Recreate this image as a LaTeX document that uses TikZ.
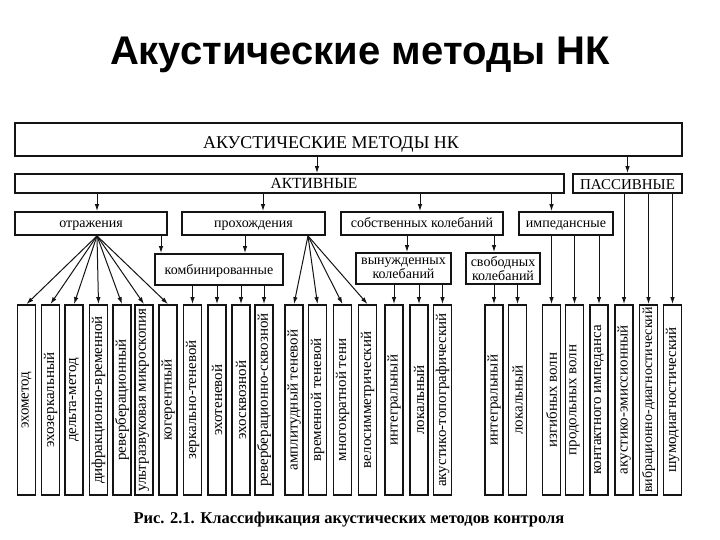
\documentclass[tikz,border=0pt]{standalone}
\usepackage{fontspec}
\setmainfont{Liberation Serif}
\newfontfamily\headfont{Liberation Sans}
\usepackage{graphicx}
\usetikzlibrary{positioning,calc}
\usetikzlibrary{arrows.meta}
\definecolor{InkBlack}{RGB}{20,20,20}
\tikzset{
	frame/.style={draw=InkBlack,line width=1.8pt,inner sep=0pt,
		font=\fontsize{14}{15.5}\selectfont},
	box/.style={frame,text height=10pt,text depth=1pt},
	box2/.style={frame,align=center,font=\fontsize{14}{13.5}\selectfont},
	leaf/.style={frame,minimum width=18pt,minimum height=190pt,
		font=\fontsize{15}{16}\selectfont},
	arr/.style={draw=InkBlack,line width=1pt,-{Latex[length=7pt,width=4.5pt]}},
}

\begin{document}
\begin{tikzpicture}[x=1pt,y=-1pt]
	\useasboundingbox[fill=white] (0,0) rectangle (720,540);
	\node[anchor=base,font=\headfont\bfseries\fontsize{40}{44}\selectfont] (title) at (360,65) {Акустические методы НК};
	% upper levels
	\node[box,minimum width=667pt,minimum height=33pt,text height=18pt,text depth=0pt,font=\fontsize{18}{20}\selectfont] (top) at (348.5,139.5) {\hspace*{-35pt}АКУСТИЧЕСКИЕ МЕТОДЫ НК};
	\node[box,minimum width=549pt,minimum height=19pt,text height=11pt,text depth=0pt,font=\fontsize{15.5}{17}\selectfont] (akt) at (289.5,183.5) {\hspace*{49pt}АКТИВНЫЕ};
	\node[box,minimum width=109pt,minimum height=19pt,text height=13pt,text depth=0pt,font=\fontsize{15}{16}\selectfont] (pas) at (627.5,183.5) {ПАССИВНЫЕ};
	\node[box,minimum width=152pt,minimum height=23pt] (otr) at (91,223.5) {отражения};
	\node[box,minimum width=143pt,minimum height=23pt] (pro) at (253.5,223.5) {прохождения};
	\node[box,minimum width=162pt,minimum height=23pt] (sob) at (422,223.5) {собственных колебаний};
	\node[box,minimum width=94pt,minimum height=23pt] (imp) at (566,223.5) {импедансные};
	\node[box,minimum width=128pt,minimum height=31pt] (komb) at (219,269.5) {комбинированные};
	\node[box2,minimum width=95pt,minimum height=31pt] (vyn) at (403.5,268.5) {вынужденных\\колебаний};
	\node[box2,minimum width=74pt,minimum height=31pt] (svob) at (503,268.5) {свободных\\колебаний};
	% methods
	\node[leaf] (l1) at (26.5,400) {\rotatebox{90}{эхометод}};
	\node[leaf] (l2) at (50.5,400) {\rotatebox{90}{эхозеркальный}};
	\node[leaf] (l3) at (74,400) {\rotatebox{90}{дельта-метод}};
	\node[leaf] (l4) at (98.5,400) {\rotatebox{90}{дифракционно-временной}};
	\node[leaf] (l5) at (122,400) {\rotatebox{90}{реверберационный}};
	\node[leaf] (l6) at (144,400) {\rotatebox{90}{ультразвуковая микроскопия}};
	\node[leaf] (l7) at (168,400) {\rotatebox{90}{когерентный}};
	\node[leaf] (l8) at (192.5,400) {\rotatebox{90}{зеркально-теневой}};
	\node[leaf] (l9) at (217,400) {\rotatebox{90}{эхотеневой}};
	\node[leaf] (l10) at (241,400) {\rotatebox{90}{эхосквозной}};
	\node[leaf] (l11) at (264,400) {\rotatebox{90}{реверберационно-сквозной}};
	\node[leaf] (l12) at (294,400) {\rotatebox{90}{амплитудный теневой}};
	\node[leaf] (l13) at (317.5,400) {\rotatebox{90}{временной теневой}};
	\node[leaf] (l14) at (342.5,400) {\rotatebox{90}{многократной тени}};
	\node[leaf] (l15) at (367.5,400) {\rotatebox{90}{велосимметрический}};
	\node[leaf] (l16) at (394,400) {\rotatebox{90}{интегральный}};
	\node[leaf] (l17) at (419,400) {\rotatebox{90}{локальный}};
	\node[leaf] (l18) at (442.5,400) {\rotatebox{90}{акустико-топографический}};
	\node[leaf] (l19) at (494,400) {\rotatebox{90}{интегральный}};
	\node[leaf] (l20) at (517.5,400) {\rotatebox{90}{локальный}};
	\node[leaf] (l21) at (551.5,400) {\rotatebox{90}{изгибных волн}};
	\node[leaf] (l22) at (574.5,400) {\rotatebox{90}{продольных волн}};
	\node[leaf] (l23) at (599,400) {\rotatebox{90}{контактного импеданса}};
	\node[leaf] (l24) at (624,400) {\rotatebox{90}{акустико-эмиссионный}};
	\node[leaf,font=\fontsize{14}{15}\selectfont] (l25) at (648.5,400) {\rotatebox{90}{вибрационно-диагностический}};
	\node[leaf] (l26) at (672.5,400) {\rotatebox{90}{шумодиагностический}};
	\node[font=\bfseries\fontsize{16.5}{18}\selectfont] (cap) at (349,520) {Рис. 2.1. Классификация акустических методов контроля};
	% arrows between levels
	\coordinate (t1) at (top.south -| 317,0);
	\coordinate (otrfan) at (otr.south -| 97,0);
	\coordinate (profan) at (pro.south -| 308,0);
	\draw[arr] (t1) -- (t1 |- akt.north);
	\draw[arr] (top.south -| pas.north) -- (pas.north);
	\draw[arr] (akt.south -| 97,0) -- (otr.north -| 97,0);
	\draw[arr] (akt.south -| 263,0) -- (pro.north -| 263,0);
	\draw[arr] (akt.south -| 420,0) -- (sob.north -| 420,0);
	\draw[arr] (akt.south -| l21) -- (imp.north -| l21);
	\draw[arr] (otr.south -| 161,0) -- (komb.north -| 161,0);
	\draw[arr] (pro.south -| 245,0) -- (komb.north -| 245,0);
	\draw[arr] (sob.south -| 407,0) -- (vyn.north -| 407,0);
	\draw[arr] (sob.south -| l19) -- (svob.north -| l19);
	% fans
	\draw[arr] (otrfan) -- (l1.north);
	\draw[arr] (otrfan) -- (l2.north);
	\draw[arr] (otrfan) -- (l3.north);
	\draw[arr] (otrfan) -- (l4.north);
	\draw[arr] (otrfan) -- (l5.north);
	\draw[arr] (otrfan) -- (l6.north);
	\draw[arr] (otrfan) -- (l7.north);
	\draw[arr] (profan) -- (l12.north);
	\draw[arr] (profan) -- (l13.north);
	\draw[arr] (profan) -- (l14.north);
	\draw[arr] (profan) -- (l15.north);
	% straight drops
	\draw[arr] (komb.south -| l8) -- (l8.north);
	\draw[arr] (komb.south -| l9) -- (l9.north);
	\draw[arr] (komb.south -| l10) -- (l10.north);
	\draw[arr] (komb.south -| l11) -- (l11.north);
	\draw[arr] (vyn.south -| l16) -- (l16.north);
	\draw[arr] (vyn.south -| l17) -- (l17.north);
	\draw[arr] (vyn.south -| l18) -- (l18.north);
	\draw[arr] (svob.south -| l19) -- (l19.north);
	\draw[arr] (svob.south -| l20) -- (l20.north);
	\draw[arr] (imp.south -| l21) -- (l21.north);
	\draw[arr] (imp.south -| l22) -- (l22.north);
	\draw[arr] (imp.south -| l23) -- (l23.north);
	\draw[arr] (pas.south -| l24) -- (l24.north);
	\draw[arr] (pas.south -| l25) -- (l25.north);
	\draw[arr] (pas.south -| l26) -- (l26.north);
\end{tikzpicture}
\end{document}
